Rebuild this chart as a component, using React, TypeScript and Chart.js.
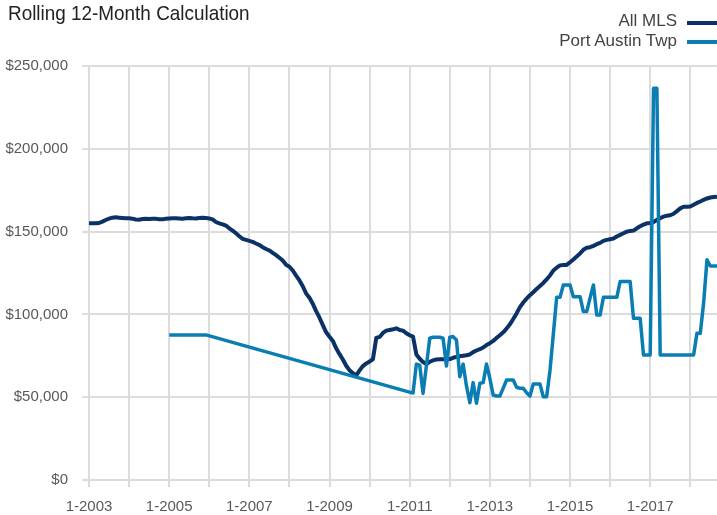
import React, { useEffect, useRef } from "react";
import { Chart, registerables } from "chart.js";

Chart.register(...registerables);

const START_YEAR = 2003;
const MONTH_COUNT = 189; // 1-2003 .. 9-2018

const monthLabels: string[] = Array.from(
  { length: MONTH_COUNT },
  (_, i) => `${(i % 12) + 1}-${START_YEAR + Math.floor(i / 12)}`
);

const seriesNames = ["All MLS", "Port Austin Twp"];

const allMLS: number[] = [
  155000, 155000, 155000, 155200, 156000, 157000, 157800, 158400, 158600, 158400, 158200, 158000,
  158100, 157800, 157300, 157200, 157600, 157800, 157600, 157800, 157700, 157500, 157400, 157800,
  157900, 158000, 158000, 157900, 157800, 158000, 158200, 158000, 157900, 158200, 158400, 158200,
  157900, 157400, 155800, 155000, 154400, 153600, 152000, 150600, 149000, 147200, 145600, 145000,
  144400, 143800, 142800, 141900, 140600, 139500, 138600, 137200, 135800, 134200, 132500, 130000,
  128800, 126500, 123400, 120500, 117000, 112600, 110000, 106400, 102000, 98000, 93500, 89200,
  86500, 84000, 79500, 76000, 72800, 69000, 66200, 64500, 63200, 66200, 68800, 70400,
  71500, 73000, 85800, 86400, 88800, 90200, 90600, 91000, 91600, 90600, 90200, 88600,
  87400, 86600, 75800, 73200, 71200, 70000, 71400, 72200, 72800, 72900, 72900, 72900,
  73000, 73800, 74400, 74700, 75000, 75300, 75800, 77200, 78200, 79000, 80000, 81500,
  82600, 84000, 85800, 87400, 89200, 91400, 94000, 97200, 100600, 104400, 107200, 109500,
  111600, 113400, 115400, 117200, 119000, 121200, 123500, 126500, 128200, 129600, 129800, 129900,
  131500, 133200, 135000, 136800, 139000, 140200, 140600, 141400, 142400, 143200, 144400, 145000,
  145400, 145800, 147000, 148000, 149000, 150000, 150400, 150600, 152000, 153200, 154200, 155000,
  155200, 155800, 157000, 158200, 159000, 159600, 159900, 160800, 162400, 164000, 165000, 165000,
  165200, 166200, 167300, 168200, 169200, 170000, 170600, 170900, 171100,
];

const N = null;
const portAustin: (number | null)[] = [
  N, N, N, N, N, N, N, N, N, N, N, N,
  N, N, N, N, N, N, N, N, N, N, N, N,
  87600, 87600, 87600, 87600, 87600, 87600, 87600, 87600, 87600, 87600, 87600, 87600,
  N, N, N, N, N, N, N, N, N, N, N, N,
  N, N, N, N, N, N, N, N, N, N, N, N,
  N, N, N, N, N, N, N, N, N, N, N, N,
  N, N, N, N, N, N, N, N, N, N, N, N,
  N, N, N, N, N, N, N, N, N, N, N, N,
  N, 52500, 70000, 69400, 52300, 69000, 85600, 86200, 86200, 86200, 85600, 68800,
  86200, 86600, 84500, 62400, 70000, 56800, 46700, 58800, 46300, 58400, 58800, 70000,
  61400, 51300, 50700, 50700, 55500, 60400, 60400, 60400, 56000, 55400, 55400, 52700,
  50700, 58000, 58000, 58000, 50300, 50300, 66000, 88000, 110300, 110300, 117800, 117800,
  117800, 110700, 110700, 110700, 101700, 101700, 110000, 117800, 99600, 99600, 110300, 110300,
  110300, 110300, 110300, 119800, 119800, 119800, 119800, 97600, 97600, 97600, 75500, 75500,
  75500, 236500, 236500, 75500, 75500, 75500, 75500, 75500, 75500, 75500, 75500, 75500,
  75500, 75500, 88600, 88600, 107000, 133000, 129200, 129200, 129200,
];

const yTickValues = [0, 50000, 100000, 150000, 200000, 250000];

const NAVY = "#0b3266";
const BLUE = "#0a7db3";
const GRID = "#dcdcdc";
const TICK_TEXT = "#595959";
const FONT = "'Liberation Sans', Arial, Helvetica, sans-serif";

export default function App() {
  const ref = useRef<HTMLCanvasElement | null>(null);

  useEffect(() => {
    document.body.style.margin = "0";
    const canvas = ref.current;
    if (!canvas) return;
    const chart = new Chart(canvas, {
      type: "line",
      data: {
        labels: monthLabels,
        datasets: [
          {
            label: seriesNames[1],
            data: portAustin,
            borderColor: BLUE,
            backgroundColor: BLUE,
            borderWidth: 3.5,
            pointRadius: 0,
            tension: 0,
            spanGaps: true,
            borderJoinStyle: "round",
            order: 0,
          },
          {
            label: seriesNames[0],
            data: allMLS,
            borderColor: NAVY,
            backgroundColor: NAVY,
            borderWidth: 4,
            pointRadius: 0,
            tension: 0,
            borderJoinStyle: "round",
            order: 1,
          },
        ],
      },
      options: {
        responsive: false,
        animation: false,
        layout: { padding: { top: 66, left: 0, right: 0, bottom: 0 } },
        plugins: {
          legend: { display: false },
          title: { display: false },
          tooltip: { enabled: false },
        },
        scales: {
          x: {
            type: "category",
            offset: false,
            grid: {
              color: (ctx: any) => (ctx.index % 12 === 0 ? GRID : "rgba(0,0,0,0)"),
              tickColor: (ctx: any) => (ctx.index % 12 === 0 ? GRID : "rgba(0,0,0,0)"),
              lineWidth: 2,
              tickLength: 7,
              drawTicks: true,
            },
            border: { display: true, color: GRID, width: 2 },
            ticks: {
              autoSkip: false,
              maxRotation: 0,
              minRotation: 0,
              padding: 11,
              color: TICK_TEXT,
              font: { family: FONT, size: 15 },
              callback: (_v: any, i: number) => (i % 24 === 0 ? monthLabels[i] : ""),
            },
            afterFit: (s: any) => {
              s.height = 35;
              s.paddingRight = 0;
            },
          },
          y: {
            min: yTickValues[0],
            max: yTickValues[yTickValues.length - 1],
            grid: { color: GRID, lineWidth: 2, tickLength: 7, drawTicks: true, tickColor: GRID },
            border: { display: true, color: GRID, width: 2 },
            ticks: {
              stepSize: 50000,
              padding: 14,
              color: TICK_TEXT,
              font: { family: FONT, size: 15 },
              callback: (v: any) => "$" + Number(v).toLocaleString("en-US"),
            },
            afterFit: (s: any) => {
              s.width = 89;
            },
          },
        },
      },
    });
    return () => chart.destroy();
  }, []);

  return (
    <div style={{ position: "relative", width: 717, height: 515, fontFamily: FONT }}>
      <canvas ref={ref} width={717} height={515} style={{ display: "block" }} />
      <div
        style={{
          position: "absolute",
          left: 8,
          top: 2,
          fontSize: 21,
          lineHeight: "21px",
          color: "#222222",
          whiteSpace: "nowrap",
          transform: "scaleX(0.9)",
          transformOrigin: "left top",
        }}
      >
        Rolling 12-Month Calculation
      </div>
      <div
        style={{
          position: "absolute",
          right: 40,
          top: 12,
          fontSize: 17,
          lineHeight: "17px",
          color: "#444444",
          whiteSpace: "nowrap",
        }}
      >
        {seriesNames[0]}
      </div>
      <div style={{ position: "absolute", left: 687, top: 21, width: 30, height: 4, background: NAVY }} />
      <div
        style={{
          position: "absolute",
          right: 40,
          top: 32,
          fontSize: 17,
          lineHeight: "17px",
          color: "#444444",
          whiteSpace: "nowrap",
        }}
      >
        {seriesNames[1]}
      </div>
      <div style={{ position: "absolute", left: 687, top: 40, width: 30, height: 4, background: BLUE }} />
    </div>
  );
}
